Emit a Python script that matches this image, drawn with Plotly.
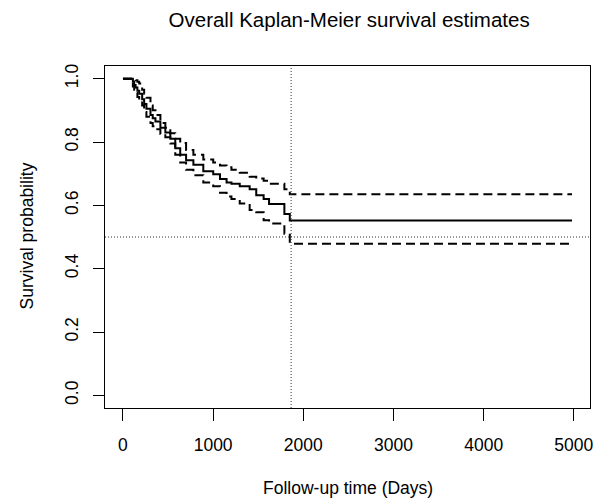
import plotly.graph_objects as go

# Kaplan-Meier step data (days, survival, 95% CI)
times = [0, 110, 125, 140, 160, 180, 213, 235, 260, 305, 330, 360, 415, 470, 525, 580, 635,
         700, 781, 891, 1001, 1076, 1149, 1203, 1295, 1405, 1478, 1560, 1620, 1790, 1850, 4980]
surv = [1.0, 0.99, 0.98, 0.972, 0.962, 0.952, 0.935, 0.92, 0.905, 0.885, 0.875, 0.865, 0.845,
        0.83, 0.81, 0.78, 0.76, 0.742, 0.728, 0.708, 0.698, 0.683, 0.672, 0.668, 0.66, 0.651,
        0.632, 0.62, 0.604, 0.573, 0.552, 0.552]
upper = [1.0, 1.0, 1.0, 0.995, 0.99, 0.985, 0.965, 0.952, 0.94, 0.915, 0.9, 0.885, 0.86,
         0.845, 0.828, 0.81, 0.797, 0.775, 0.76, 0.745, 0.735, 0.726, 0.72, 0.712, 0.703, 0.69,
         0.685, 0.678, 0.668, 0.651, 0.635, 0.635]
lower = [1.0, 0.975, 0.965, 0.955, 0.942, 0.93, 0.915, 0.895, 0.88, 0.86, 0.85, 0.84, 0.825,
         0.815, 0.795, 0.76, 0.735, 0.712, 0.695, 0.672, 0.66, 0.64, 0.628, 0.62, 0.606, 0.585,
         0.578, 0.553, 0.543, 0.51, 0.479, 0.479]

ref_prob = 0.5
ref_time = 1865

x_ticks = [0, 1000, 2000, 3000, 4000, 5000]
y_ticks = [0.0, 0.2, 0.4, 0.6, 0.8, 1.0]

FONT = "Liberation Sans, Arial, sans-serif"

fig = go.Figure()
for ys, dash in [(upper, "9px,5px"), (lower, "9px,5px"), (surv, "solid")]:
    fig.add_trace(go.Scatter(x=times, y=ys, mode="lines", line_shape="hv",
                             line=dict(color="black", width=2, dash=dash),
                             showlegend=False, hoverinfo="skip"))

fig.add_shape(type="line", xref="paper", yref="y", x0=0, x1=1, y0=ref_prob, y1=ref_prob,
              line=dict(color="#333", width=1, dash="1px,2px"))
fig.add_shape(type="line", xref="x", yref="paper", x0=ref_time, x1=ref_time, y0=0, y1=1,
              line=dict(color="#333", width=1, dash="1px,2px"))

xmax = max(times)
fig.update_layout(
    width=604, height=501,
    margin=dict(l=105, r=11, t=66, b=93),
    paper_bgcolor="white", plot_bgcolor="white",
    font=dict(family=FONT, size=17.5, color="black"),
    title=dict(text="Overall Kaplan-Meier survival estimates", x=0.578, xanchor="center",
               y=1 - 20 / 501, yanchor="middle", font=dict(size=20.5, family=FONT)),
    xaxis=dict(range=[-0.04 * xmax, 1.04 * xmax], tickvals=x_ticks,
               ticktext=[str(v) for v in x_ticks],
               showgrid=False, zeroline=False, showline=True, mirror=True,
               linecolor="black", linewidth=1, ticks="outside", ticklen=12,
               tickcolor="black", ticklabelstandoff=9),
    yaxis=dict(range=[-0.04, 1.04], tickvals=y_ticks,
               ticktext=[f"{v:.1f}" for v in y_ticks], tickangle=-90,
               showgrid=False, zeroline=False, showline=True, mirror=True,
               linecolor="black", linewidth=1, ticks="outside", ticklen=11,
               tickcolor="black", ticklabelstandoff=8),
    annotations=[
        dict(text="Follow-up time (Days)", xref="paper", yref="paper",
             x=0.5, y=(408 - 488) / 342, xanchor="center", yanchor="middle",
             showarrow=False, font=dict(size=17.5, family=FONT)),
        dict(text="Survival probability", xref="paper", yref="paper",
             x=(27 - 105) / 488, y=(408 - 236) / 342, xanchor="center", yanchor="middle",
             textangle=-90, showarrow=False, font=dict(size=17.5, family=FONT)),
    ],
)

fig.write_html("out.html", config={"displayModeBar": False},
               post_script="document.body.style.margin='0';document.body.style.overflow='hidden';")
